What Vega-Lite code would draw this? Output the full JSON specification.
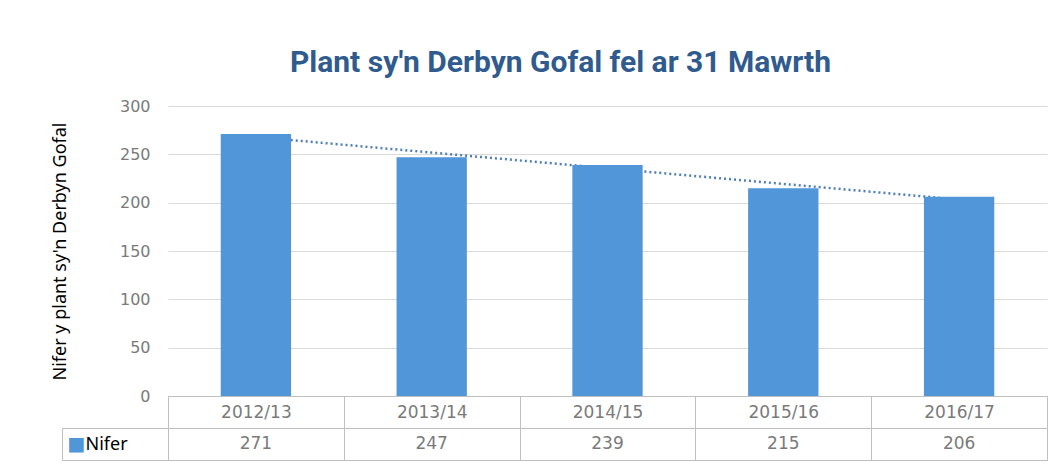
{
  "$schema": "https://vega.github.io/schema/vega-lite/v6.json",
  "background": "white",
  "padding": {"left": 51, "right": 13, "top": 48, "bottom": 10},
  "title": {
    "text": "Plant sy'n Derbyn Gofal fel ar 31 Mawrth",
    "font": "Roboto",
    "fontSize": 30,
    "fontWeight": "bold",
    "color": "#2f5b8e",
    "anchor": "middle",
    "offset": 20,
    "dx": 11
  },
  "datasets": {
    "main": [
      {"year": "2012/13", "Nifer": 271, "trend": 268.0, "series": "Nifer"},
      {"year": "2013/14", "Nifer": 247, "trend": 251.8, "series": "Nifer"},
      {"year": "2014/15", "Nifer": 239, "trend": 235.6, "series": "Nifer"},
      {"year": "2015/16", "Nifer": 215, "trend": 219.4, "series": "Nifer"},
      {"year": "2016/17", "Nifer": 206, "trend": 203.2, "series": "Nifer"}
    ]
  },
  "bounds": "flush",
  "spacing": 32,
  "config": {"view": {"stroke": null}},
  "vconcat": [
    {
      "width": 879,
      "height": 290,
      "data": {"name": "main"},
      "encoding": {
        "x": {
          "field": "year",
          "type": "ordinal",
          "scale": {"paddingInner": 0, "paddingOuter": 0},
          "axis": {
            "title": null,
            "labelAngle": 0,
            "domainColor": "#bfbfbf",
            "tickColor": "#bfbfbf",
            "tickBand": "extent",
            "tickSize": 32,
            "labelPadding": -16,
            "labelBaseline": "middle",
            "labelFont": "DejaVu Sans",
            "labelFontSize": 17,
            "labelColor": "#7a7a7a",
            "minExtent": 32,
            "maxExtent": 32
          }
        }
      },
      "layer": [
        {
          "mark": {"type": "line", "strokeDash": [2, 3], "strokeWidth": 2.5, "color": "#4f7fb8"},
          "encoding": {
            "y": {"field": "trend", "type": "quantitative", "scale": {"domain": [0, 300]}}
          }
        },
        {
          "mark": {"type": "bar", "color": "#5096d8", "width": {"band": 0.4}},
          "encoding": {
            "y": {
              "field": "Nifer",
              "type": "quantitative",
              "scale": {"domain": [0, 300]},
              "axis": {
                "title": "Nifer y plant sy'n Derbyn Gofal",
                "titleFont": "Noto Sans",
                "titleFontSize": 18,
                "titleFontWeight": "normal",
                "titleColor": "#000000",
                "titlePadding": 50,
                "values": [0, 50, 100, 150, 200, 250, 300],
                "grid": true,
                "gridColor": "#d9d9d9",
                "domain": false,
                "ticks": false,
                "labelPadding": 18,
                "labelFont": "DejaVu Sans",
                "labelFontSize": 16,
                "labelColor": "#7a7a7a"
              }
            }
          }
        }
      ]
    },
    {
      "width": 879,
      "height": 32,
      "data": {"name": "main"},
      "view": {"stroke": "#bfbfbf"},
      "resolve": {"scale": {"y": "independent"}, "axis": {"y": "independent"}},
      "layer": [
        {
          "mark": {"type": "text", "font": "DejaVu Sans", "fontSize": 17, "color": "#7a7a7a"},
          "encoding": {
            "x": {
              "field": "year",
              "type": "ordinal",
              "scale": {"type": "band", "paddingInner": 0, "paddingOuter": 0},
              "axis": {
                "title": null,
                "grid": true,
                "gridColor": "#bfbfbf",
                "tickBand": "extent",
                "labels": false,
                "ticks": false,
                "domain": false,
                "minExtent": 0,
                "maxExtent": 0
              }
            },
            "y": {
              "field": "series",
              "type": "nominal",
              "scale": {"type": "band", "paddingInner": 0, "paddingOuter": 0},
              "axis": {
                "orient": "left",
                "title": null,
                "domain": false,
                "tickBand": "extent",
                "tickSize": 106,
                "tickColor": "#bfbfbf",
                "labelAlign": "left",
                "labelPadding": -23,
                "labelBaseline": "middle",
                "labelFont": "Noto Sans",
                "labelFontSize": 18,
                "labelColor": "#000000"
              }
            },
            "text": {"field": "Nifer", "type": "quantitative"}
          }
        },
        {
          "mark": {"type": "text", "text": ""},
          "encoding": {
            "y": {
              "field": "series",
              "type": "nominal",
              "scale": {"type": "band", "paddingInner": 0, "paddingOuter": 0},
              "axis": {
                "orient": "left",
                "offset": 106,
                "title": null,
                "domain": true,
                "domainColor": "#bfbfbf",
                "ticks": false,
                "tickSize": 0,
                "labelAlign": "left",
                "labelPadding": -5,
                "labelBaseline": "middle",
                "labelExpr": "'■'",
                "labelFont": "DejaVu Sans",
                "labelFontSize": 19,
                "labelColor": "#5096d8"
              }
            }
          }
        }
      ]
    }
  ]
}
